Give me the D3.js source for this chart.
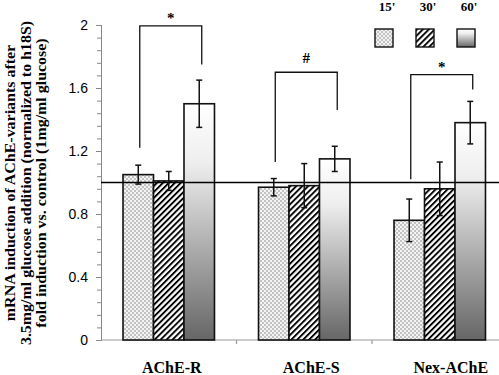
<!DOCTYPE html>
<html>
<head>
<meta charset="utf-8">
<script src="https://cdn.jsdelivr.net/npm/d3@7"></script>
<style>
  body { margin: 0; background: #fff; }
  svg { display: block; }
  .serif { font-family: 'Liberation Serif', 'Times New Roman', serif; font-weight: bold; }
</style>
</head>
<body>
<svg id="chart" width="499" height="375"></svg>
<script>
// values
const categories = ['AChE-R', 'AChE-S', 'Nex-AChE'];
const times = ["15'", "30'", "60'"];
const means = [
  [1.05, 1.01, 1.50],
  [0.97, 0.98, 1.15],
  [0.76, 0.96, 1.38],
];
const errors = [
  [0.06, 0.06, 0.15],
  [0.055, 0.14, 0.08],
  [0.135, 0.17, 0.135],
];
const yTicks = [0, 0.4, 0.8, 1.2, 1.6, 2];
// significance brackets: top level, bottom of left leg, bottom of right leg
const sigLabels = ['*', '#', '*'];
const sigTop = [1.995, 1.70, 1.685];
const sigLeft = [1.22, 1.13, 1.02];
const sigRight = [1.75, 1.46, 1.59];
const titleLines = [
  'mRNA induction of AChE-variants after',
  '3.5mg/ml glucose addition (normalized to h18S)',
  'fold induction vs. control (1mg/ml glucose)',
];

const svg = d3.select('#chart');
const defs = svg.append('defs');

// 15' : fine stipple
const dots = defs.append('pattern')
  .attr('id', 'dots')
  .attr('patternUnits', 'userSpaceOnUse')
  .attr('width', 4).attr('height', 4);
dots.append('rect').attr('width', 4).attr('height', 4).attr('fill', '#f4f4f4');
dots.append('rect').attr('width', 2).attr('height', 2).attr('fill', '#c2c2c2');
dots.append('rect').attr('x', 2).attr('y', 2).attr('width', 2).attr('height', 2).attr('fill', '#c2c2c2');

// 30' : diagonal hatch
const hatch = defs.append('pattern')
  .attr('id', 'hatch')
  .attr('patternUnits', 'userSpaceOnUse')
  .attr('width', 4.2).attr('height', 4.2)
  .attr('patternTransform', 'rotate(45)');
hatch.append('rect').attr('width', 4.2).attr('height', 4.2).attr('fill', '#fff');
hatch.append('rect').attr('width', 1.9).attr('height', 4.2).attr('fill', '#000');

// 60' : white to grey gradient
const grad = defs.append('linearGradient')
  .attr('id', 'grad')
  .attr('x1', 0).attr('y1', 0).attr('x2', 0).attr('y2', 1);
grad.append('stop').attr('offset', '0%').attr('stop-color', '#ffffff');
grad.append('stop').attr('offset', '25%').attr('stop-color', '#eeeeee');
grad.append('stop').attr('offset', '100%').attr('stop-color', '#666666');

const fills = d3.scaleOrdinal().domain(times).range(['url(#dots)', 'url(#hatch)', 'url(#grad)']);

const x0 = d3.scaleBand()
  .domain(categories)
  .range([101, 507.5])
  .paddingInner(0.325)
  .paddingOuter(0.1625);
const x1 = d3.scaleBand()
  .domain(times)
  .range([0, x0.bandwidth()]);
const y = d3.scaleLinear().domain([0, 2]).range([340, 25]);

// y axis, major and minor ticks
const minor = d3.range(0, 2.0001, 0.08);
svg.append('g')
  .attr('transform', 'translate(101,0)')
  .call(d3.axisLeft(y).tickValues(minor).tickSize(4).tickFormat(''))
  .call((g) => g.selectAll('line, path').attr('stroke', '#888'));
const yAxis = svg.append('g')
  .attr('transform', 'translate(101,0)')
  .call(d3.axisLeft(y).tickValues(yTicks).tickSize(5).tickPadding(8).tickFormat(d3.format('')));
yAxis.select('.domain').attr('stroke', '#888');
yAxis.selectAll('line').attr('stroke', '#888');
yAxis.selectAll('text')
  .attr('fill', '#000')
  .style('font-size', '14px')
  .style('font-family', "'Liberation Sans', Arial, sans-serif");

// x axis baseline and category separators
const step = x0.step();
svg.append('line')
  .attr('x1', 101).attr('x2', 499)
  .attr('y1', y(0)).attr('y2', y(0))
  .attr('stroke', '#999').attr('stroke-width', 1.2);
svg.selectAll('line.sep')
  .data(categories.slice(1))
  .join('line')
  .attr('class', 'sep')
  .attr('x1', (d) => x0(d) - step * x0.paddingInner() / 2)
  .attr('x2', (d) => x0(d) - step * x0.paddingInner() / 2)
  .attr('y1', y(0)).attr('y2', y(0) + 4)
  .attr('stroke', '#999').attr('stroke-width', 1.2);

// bars
const rows = [];
categories.forEach((c, i) => {
  times.forEach((t, j) => {
    rows.push({ c, t, v: means[i][j], e: errors[i][j] });
  });
});
const barX = (d) => x0(d.c) + x1(d.t);

svg.append('g').selectAll('rect')
  .data(rows)
  .join('rect')
  .attr('x', barX)
  .attr('y', (d) => y(d.v))
  .attr('width', x1.bandwidth())
  .attr('height', (d) => y(0) - y(d.v))
  .attr('fill', (d) => fills(d.t))
  .attr('stroke', '#111')
  .attr('stroke-width', 1.6);

// reference line at 1
svg.append('line')
  .attr('x1', 101).attr('x2', 499)
  .attr('y1', y(1)).attr('y2', y(1))
  .attr('stroke', '#000').attr('stroke-width', 1.4);

// error bars
const eb = svg.append('g').selectAll('g')
  .data(rows)
  .join('g')
  .attr('stroke', '#111')
  .attr('stroke-width', 1.5);
eb.append('line')
  .attr('x1', (d) => barX(d) + x1.bandwidth() / 2)
  .attr('x2', (d) => barX(d) + x1.bandwidth() / 2)
  .attr('y1', (d) => y(d.v + d.e))
  .attr('y2', (d) => y(d.v - d.e));
[1, -1].forEach((s) => {
  eb.append('line')
    .attr('x1', (d) => barX(d) + x1.bandwidth() / 2 - 3)
    .attr('x2', (d) => barX(d) + x1.bandwidth() / 2 + 3)
    .attr('y1', (d) => y(d.v + s * d.e))
    .attr('y2', (d) => y(d.v + s * d.e));
});

// significance brackets
categories.forEach((c, i) => {
  const xl = x0(c) + x1(times[0]) + x1.bandwidth() / 2 + 1.5;
  const xr = x0(c) + x1(times[2]) + x1.bandwidth() / 2 + 2.5;
  svg.append('path')
    .attr('d', `M${xl},${y(sigLeft[i])}V${y(sigTop[i])}H${xr}V${y(sigRight[i])}`)
    .attr('fill', 'none')
    .attr('stroke', '#111')
    .attr('stroke-width', 1.3);
  svg.append('text')
    .attr('class', 'serif')
    .attr('x', (xl + xr) / 2)
    .attr('y', y(sigTop[i]) - (sigLabels[i] === '#' ? 9 : 3))
    .attr('text-anchor', 'middle')
    .style('font-size', '15px')
    .text(sigLabels[i]);
});

// category labels
svg.append('g').selectAll('text')
  .data(categories)
  .join('text')
  .attr('class', 'serif')
  .attr('x', (d, i) => x0(d) + x0.bandwidth() / 2 + 3 + 4 * i)
  .attr('y', 373)
  .attr('text-anchor', 'middle')
  .style('font-size', '16px')
  .text((d) => d);

// legend
const legend = svg.append('g').selectAll('g')
  .data(times)
  .join('g')
  .attr('transform', (d, i) => `translate(${375 + 41 * i},29)`);
legend.append('rect')
  .attr('width', 18).attr('height', 18)
  .attr('fill', (d) => fills(d))
  .attr('stroke', '#111')
  .attr('stroke-width', 1.4);
legend.append('text')
  .attr('class', 'serif')
  .attr('x', 12).attr('y', -18)
  .attr('text-anchor', 'middle')
  .style('font-size', '13px')
  .text((d) => d);

// y title (stretched along its length like the original)
svg.append('text')
  .attr('class', 'serif')
  .attr('transform', 'translate(0,183) rotate(-90) scale(1.1,1)')
  .attr('text-anchor', 'middle')
  .style('font-size', '14.5px')
  .selectAll('tspan')
  .data(titleLines)
  .join('tspan')
  .attr('x', 0)
  .attr('y', (d, i) => 15.5 + 15.3 * i)
  .text((d) => d);
</script>
</body>
</html>
